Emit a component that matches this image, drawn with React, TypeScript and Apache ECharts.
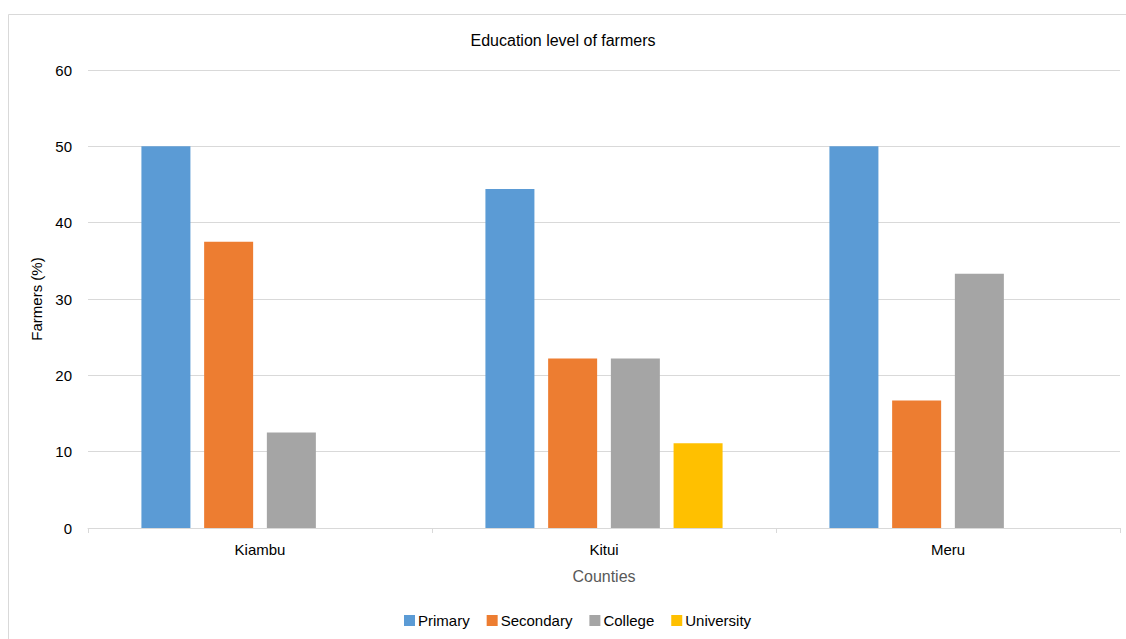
import React, { useEffect, useRef } from "react";
import * as echarts from "echarts";

const counties = ["Kiambu", "Kitui", "Meru"];
const primary = [50, 44.4, 50];
const secondary = [37.5, 22.2, 16.7];
const college = [12.5, 22.2, 33.3];
const university = [0, 11.1, 0];
const seriesNames = ["Primary", "Secondary", "College", "University"];
const seriesColors = ["#5B9BD5", "#ED7D31", "#A5A5A5", "#FFC000"];

const FONT = "'Liberation Sans', Arial, sans-serif";

export default function App() {
  const ref = useRef<HTMLDivElement>(null);

  useEffect(() => {
    document.body.style.margin = "0";
    if (!ref.current) return;
    const chart = echarts.init(ref.current, undefined, { renderer: "svg" });
    const values = [primary, secondary, college, university];
    chart.setOption({
      animation: false,
      backgroundColor: "#ffffff",
      textStyle: { fontFamily: FONT },
      title: {
        text: "Education level of farmers",
        left: "center",
        top: 27,
        textStyle: { fontFamily: FONT, fontSize: 16, fontWeight: "normal", color: "#000000" },
      },
      graphic: [
        {
          type: "rect",
          shape: { x: 8.5, y: 14.5, width: 1300, height: 800 },
          style: { fill: "none", stroke: "#d9d9d9", lineWidth: 1 },
          silent: true,
        },
      ],
      legend: {
        bottom: 6,
        left: 399,
        itemWidth: 11,
        itemHeight: 11,
        itemGap: 17,
        icon: "rect",
        textStyle: { fontFamily: FONT, fontSize: 15, color: "#000000", padding: [0, 0, 0, -2] },
        data: seriesNames,
      },
      grid: { left: 88, right: 6, top: 70, bottom: 111 },
      xAxis: {
        type: "category",
        data: counties,
        name: "Counties",
        nameLocation: "middle",
        nameGap: 40,
        nameTextStyle: { fontFamily: FONT, fontSize: 16, color: "#595959" },
        axisLine: { lineStyle: { color: "#d9d9d9", width: 1 } },
        axisTick: { show: true, length: 5, lineStyle: { color: "#d9d9d9" } },
        axisLabel: { fontFamily: FONT, fontSize: 15, color: "#000000", margin: 14 },
      },
      yAxis: {
        type: "value",
        min: 0,
        max: 60,
        interval: 10,
        name: "Farmers (%)",
        nameLocation: "middle",
        nameGap: 40,
        nameRotate: 90,
        nameTextStyle: { fontFamily: FONT, fontSize: 15, color: "#000000" },
        axisLine: { show: false },
        axisTick: { show: false },
        axisLabel: { fontFamily: FONT, fontSize: 15, color: "#000000", margin: 16 },
        splitLine: { lineStyle: { color: "#d9d9d9", width: 1 } },
      },
      series: seriesNames.map((name, i) => ({
        name,
        type: "bar",
        data: values[i],
        barWidth: 49,
        barGap: "28%",
        itemStyle: { color: seriesColors[i] },
      })),
    });
    return () => chart.dispose();
  }, []);

  return <div ref={ref} style={{ width: 1126, height: 639 }} />;
}
